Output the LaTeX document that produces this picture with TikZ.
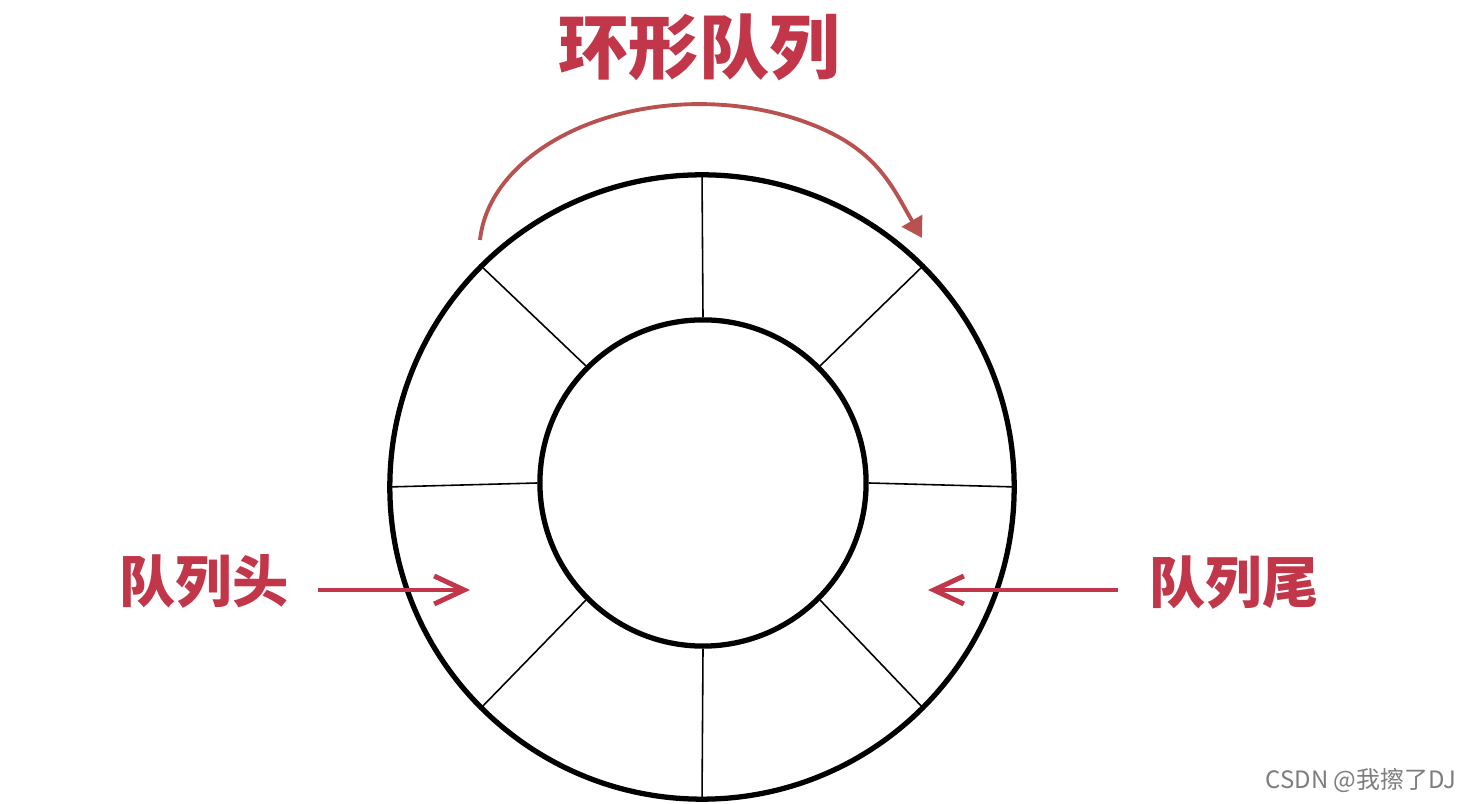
\documentclass[tikz,border=0pt]{standalone}
\usepackage{fontspec}
\newfontfamily\cjk{Noto Sans CJK SC}
\usetikzlibrary{arrows.meta}
\definecolor{qred}{RGB}{194,54,74}
\definecolor{arcred}{RGB}{184,82,80}
\definecolor{markgray}{RGB}{125,125,125}
\tikzset{
  ring/.style={circle, draw, line width=1.5pt, inner sep=0pt},
  spoke/.style={line width=0.45pt},
  qlabel/.style={text=qred, font=\cjk\bfseries\fontsize{16}{16}\selectfont, inner sep=0pt},
  harrow/.style={draw=qred, line width=1.4pt, -{Straight Barb[length=3mm,width=2.8mm,line width=1.4pt]}},
  arcarrow/.style={draw=arcred, line width=1.1pt, -{Triangle[length=2mm,width=2.3mm]}}
}
\begin{document}
\begin{tikzpicture}[x=0.01cm,y=-0.01cm]
\useasboundingbox[fill=white] (0,0) rectangle (1467,804);
\coordinate (Co) at (702,487);
\coordinate (Ci) at (703,483);
\node[ring, minimum size=6.24cm] (outer) at (Co) {};
\node[ring, minimum size=3.26cm] (inner) at (Ci) {};
\foreach \a in {0,45,...,315}
  \draw[spoke] (inner.\a) -- (outer.\a);
\node[qlabel, font=\cjk\bfseries\fontsize{20}{20}\selectfont] (title) at (699,47) {环形队列};
\coordinate (arcS) at (480,240);
\coordinate (arcE) at (922,238);
\draw[arcarrow] (arcS) arc[start angle=176, end angle=55, x radius=2.2cm, y radius=1.46cm]
  .. controls +(54,25) and +(-28,-48) .. (arcE);
\node[qlabel] (head) at (204,581) {队列头};
\node[qlabel] (tail) at (1234,583) {队列尾};
\coordinate (headS) at (318,590);
\coordinate (headE) at (470,590);
\coordinate (tailS) at (1118,590);
\coordinate (tailE) at (928,590);
\draw[harrow] (headS) -- (headE);
\draw[harrow] (tailS) -- (tailE);
\node[text=markgray, font=\cjk\fontsize{6.8}{6.8}\selectfont, inner sep=0pt] (mark) at (1361,780) {CSDN @我擦了DJ};
\end{tikzpicture}
\end{document}
